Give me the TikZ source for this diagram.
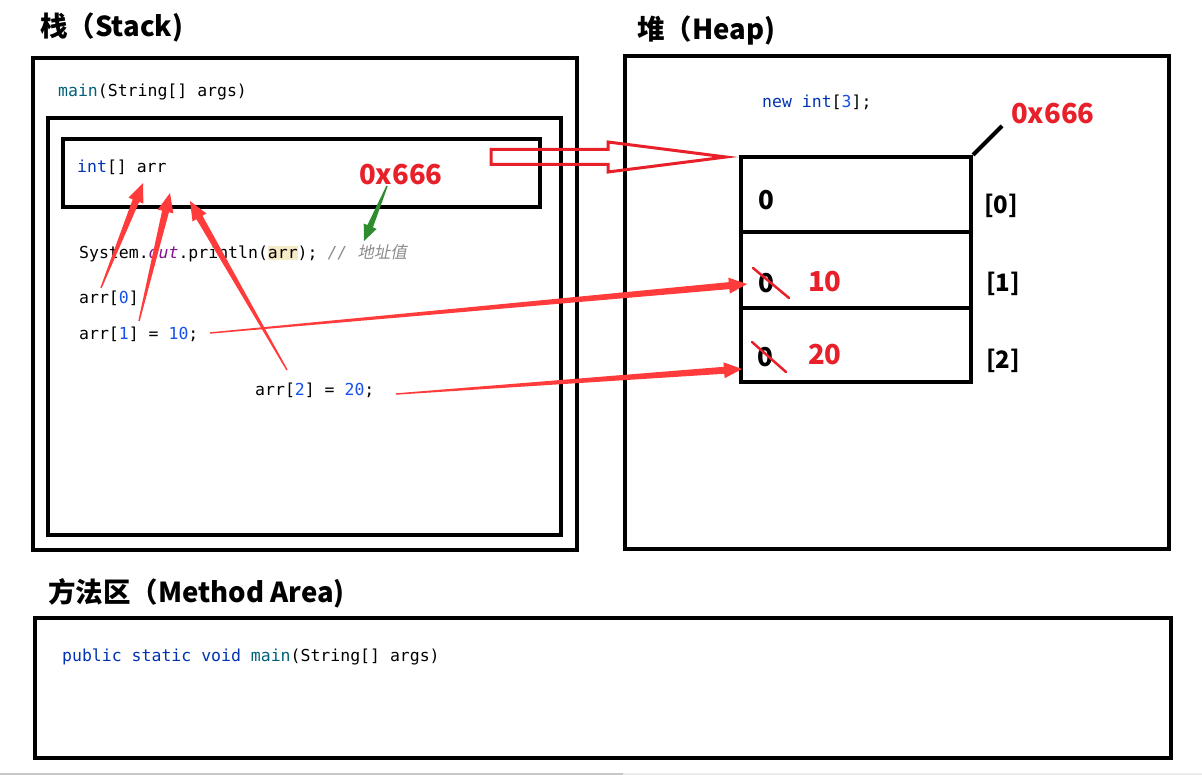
\documentclass[tikz,border=0pt]{standalone}
\usepackage{fontspec}
\usepackage{xcolor}
\usetikzlibrary{calc}
\newfontfamily\cjk{Noto Sans CJK SC}
\newfontfamily\cjkslant{Noto Sans CJK SC}[FakeSlant=0.2]
\newfontfamily\code{DejaVu Sans Mono}
\definecolor{kw}{HTML}{0033B3}
\definecolor{fn}{HTML}{00627A}
\definecolor{num}{HTML}{1750EB}
\definecolor{fld}{HTML}{871094}
\definecolor{cmt}{HTML}{8C8C8C}
\definecolor{hl}{HTML}{F6EBC7}
\definecolor{ann}{HTML}{E8202A}
\definecolor{arr}{HTML}{FF3B3B}
\definecolor{grn}{HTML}{2E8B2E}
\newcommand\taperarrow[7]{%
  \coordinate (hb) at ($(#3)!#7!(#2)$);
  \fill[#1] ($(#2)!#4!90:(#3)$) -- ($(hb)!#5!90:(#3)$) -- ($(hb)!#6!90:(#3)$) -- (#3)
    -- ($(hb)!#6!-90:(#3)$) -- ($(hb)!#5!-90:(#3)$) -- ($(#2)!#4!-90:(#3)$) -- cycle;}
\tikzset{
  box/.style={draw=black, line width=4pt, rectangle, inner sep=0pt},
  title/.style={anchor=west, inner sep=0pt, font=\cjk\bfseries\fontsize{27.5}{27.5}\selectfont},
  codetxt/.style={anchor=west, inner sep=0pt, font=\code\fontsize{16.5}{16.5}\selectfont},
  annot/.style={anchor=west, inner sep=0pt, text=ann, font=\cjk\bfseries\fontsize{27.5}{27.5}\selectfont},
  cellval/.style={anchor=west, inner sep=0pt, font=\cjk\bfseries\fontsize{26}{26}\selectfont},
  idx/.style={anchor=west, inner sep=0pt, font=\cjk\bfseries\fontsize{24}{24}\selectfont},
  cross/.style={draw=ann, line width=2.5pt, line cap=round},
}
\begin{document}
\begin{tikzpicture}[x=1pt,y=-1pt]
\useasboundingbox[fill=white] (0,0) rectangle (1202,775);
% titles
\node[title] (tstack) at (40,27) {栈（Stack)};
\node[title] (theap) at (637,30) {堆（Heap)};
\node[title] (tmeth) at (48,593) {方法区（Method Area)};
% stack boxes
\node[box, minimum width=544pt, minimum height=492pt] (stack) at (305,304) {};
\node[box, minimum width=513pt, minimum height=417pt] (frame) at (304.5,326.5) {};
\node[box, minimum width=477pt, minimum height=68pt] (var) at (301.5,173) {};
% heap
\node[box, minimum width=544pt, minimum height=493pt] (heap) at (897,302.5) {};
\node[box, minimum width=230pt, minimum height=75pt] (c0) at (856,194.5) {};
\node[box, minimum width=230pt, minimum height=76pt] (c1) at (856,270) {};
\node[box, minimum width=230pt, minimum height=74pt] (c2) at (856,345) {};
\coordinate (diag) at (1002,126);
\draw[black, line width=4pt] (c0.north east) -- (diag);
% method area
\node[box, minimum width=1136pt, minimum height=140pt] (meth) at (603,688) {};
% code texts
\node[codetxt] (mainsig) at (58,92) {\textcolor{fn}{main}(String[] args)};
\node[codetxt] (decl) at (77,167) {\textcolor{kw}{int}[] arr};
\node[codetxt] (prt) at (79,253) {System.\textcolor{fld}{\itshape out}.println(\setlength\fboxsep{0pt}\colorbox{hl}{\vphantom{(}arr});
  \textcolor{cmt}{\itshape // {\cjkslant 地址值}}};
\node[codetxt] (a0) at (79,298) {arr[\textcolor{num}{0}]};
\node[codetxt] (a1) at (79,334) {arr[\textcolor{num}{1}] = \textcolor{num}{10};};
\node[codetxt] (a2) at (255,390) {arr[\textcolor{num}{2}] = \textcolor{num}{20};};
\node[codetxt] (newarr) at (762,102) {\textcolor{kw}{new int}[\textcolor{num}{3}];};
\node[codetxt] (pub) at (62,657) {\textcolor{kw}{public static void} \textcolor{fn}{main}(String[] args)};
% annotations
\node[annot] (addr1) at (359,175) {0x666};
\node[annot] (addr2) at (1011,114) {0x666};
\node[cellval] (v0) at (758,200) {0};
\node[cellval] (v1) at (758,283) {0};
\node[cellval] (v2) at (757,357) {0};
\node[annot] (n10) at (808,282) {10};
\node[annot] (n20) at (808,355) {20};
\node[idx] (i0) at (984,206) {[0]};
\node[idx] (i1) at (986,284) {[1]};
\node[idx] (i2) at (986,361) {[2]};
\coordinate (x1a) at (753,268); \coordinate (x1b) at (789,298);
\coordinate (x2a) at (752,342); \coordinate (x2b) at (786,372);
\draw[cross] (x1a) -- (x1b);
\draw[cross] (x2a) -- (x2b);
% tapered arrows
\coordinate (t1) at (101,288); \coordinate (h1) at (143,183);
\coordinate (t2) at (139,321); \coordinate (h2) at (170,193);
\coordinate (t3) at (287,370); \coordinate (h3) at (190,201);
\coordinate (t4) at (210,333); \coordinate (h4) at (747,284);
\coordinate (t5) at (396,394); \coordinate (h5) at (742,369);
\coordinate (tg) at (387,186); \coordinate (hg) at (364,241);
\taperarrow{arr}{t1}{h1}{0.7pt}{3.5pt}{8pt}{19pt}
\taperarrow{arr}{t2}{h2}{0.7pt}{3.5pt}{8pt}{19pt}
\taperarrow{arr}{t3}{h3}{0.7pt}{3.5pt}{8pt}{19pt}
\taperarrow{arr}{t4}{h4}{0.7pt}{3.5pt}{8pt}{18pt}
\taperarrow{arr}{t5}{h5}{0.7pt}{3.5pt}{8pt}{18pt}
\taperarrow{grn}{tg}{hg}{0.7pt}{3pt}{7pt}{16pt}
% hollow pointer arrow
\coordinate (ptail) at (491,157);
\coordinate (ptip) at (726,157);
\draw[draw=ann, line width=3pt, line join=miter]
  ($(ptail)+(0,-7.5)$) -- (608,149.5) -- (608,142) -- (ptip) -- (608,172) -- (608,164.5) -- ($(ptail)+(0,7.5)$) -- cycle;
% bottom screenshot edge
\draw[black!22, line width=1.5pt] (0,774) -- (623,774);
\draw[black!8, line width=1.5pt] (623,774) -- (1202,774);
\end{tikzpicture}
\end{document}
